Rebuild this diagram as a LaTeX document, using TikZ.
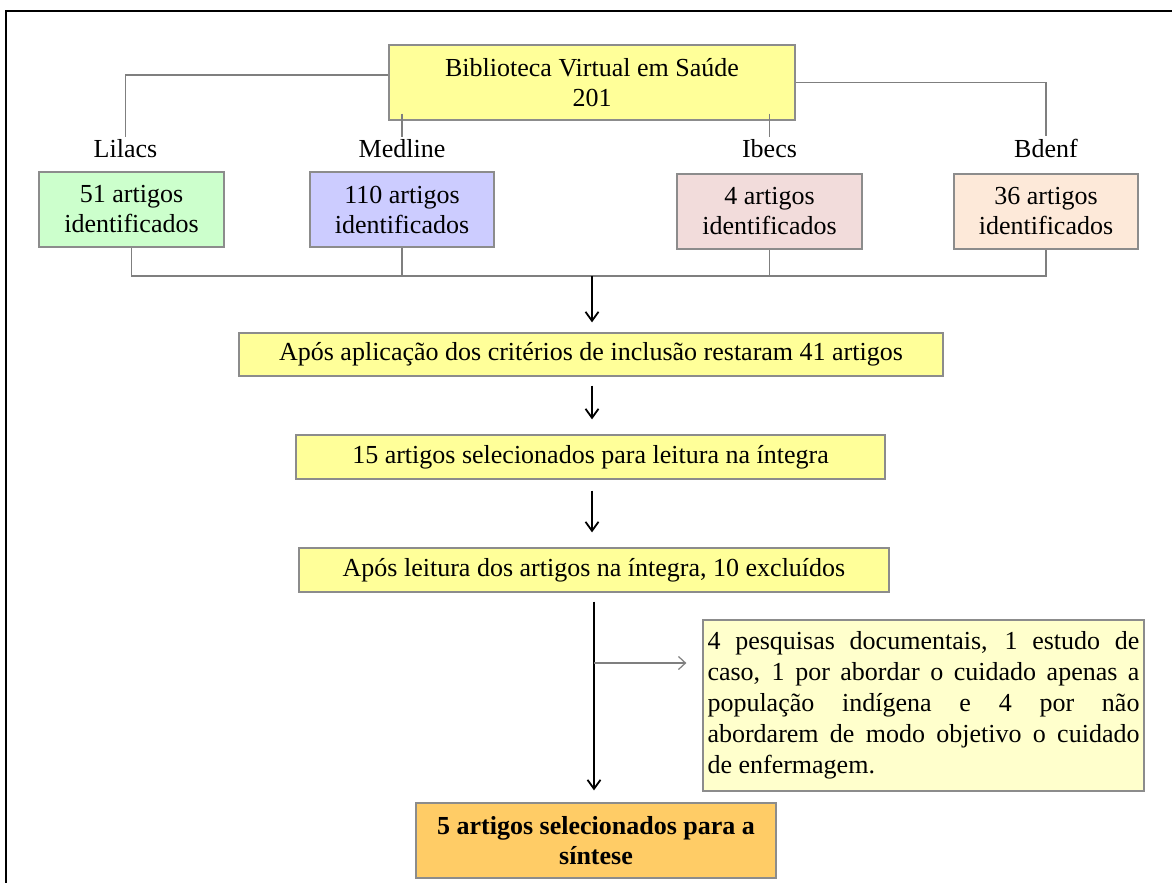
\documentclass[tikz,border=0pt]{standalone}
\usepackage{fontspec}
\setmainfont{Liberation Serif}
\usetikzlibrary{positioning,arrows.meta}
\definecolor{boxgray}{HTML}{8C8C8C}
\definecolor{linegray}{HTML}{7F7F7F}
\definecolor{bvsyellow}{HTML}{FFFF99}
\definecolor{lilgreen}{HTML}{CCFFCC}
\definecolor{medblue}{HTML}{CCCCFF}
\definecolor{ibepink}{HTML}{F2DCDB}
\definecolor{bdepeach}{HTML}{FDE9D9}
\definecolor{notecream}{HTML}{FFFFCC}
\definecolor{finorange}{HTML}{FFCC66}
\begin{document}
\begin{tikzpicture}[x=1pt, y=-1pt,
    every node/.style={font=\fontsize{26}{30}\selectfont, inner sep=3pt},
    box/.style={draw=boxgray, line width=1.3pt, rectangle, align=center},
    link/.style={draw=linegray, line width=1.4pt},
    flow/.style={draw=black, line width=1.8pt, -{Straight Barb[length=9pt, width=13pt, line width=1.8pt]}},
    aside/.style={draw=linegray, line width=1.2pt, -{Straight Barb[length=7pt, width=13pt]}}]
    \useasboundingbox (0,0) rectangle (1172,883);
    \draw[line width=2.4pt] (1172,11) -- (6,11) -- (6,883);

    % base de busca
    \node[box, fill=bvsyellow, minimum width=406pt, minimum height=75pt] (bvs) at (592,82.5) {Biblioteca Virtual em Saúde\\201};

    \node[box, fill=lilgreen, minimum width=185pt, minimum height=75pt] (lil) at (131.5,209.5) {51 artigos\\identificados};
    \node[box, fill=medblue, minimum width=184pt, minimum height=75pt] (med) at (402,209.5) {110 artigos\\identificados};
    \node[box, fill=ibepink, minimum width=185pt, minimum height=75pt] (ibe) at (769.5,211.5) {4 artigos\\identificados};
    \node[box, fill=bdepeach, minimum width=184pt, minimum height=75pt] (bde) at (1046,211.5) {36 artigos\\identificados};

    \node[above=10pt of lil, xshift=-6pt] (lil-lbl) {Lilacs};
    \node[above=10pt of med] (med-lbl) {Medline};
    \node[above=12pt of ibe] (ibe-lbl) {Ibecs};
    \node[above=12pt of bde] (bde-lbl) {Bdenf};

    \draw[link] ([yshift=7.5pt]bvs.west) -| (lil-lbl.north);
    \draw[link] (bvs.east) -| (bde-lbl.north);
    \draw[link] ([yshift=7pt]bvs.south -| med-lbl.north) -- (med-lbl.north);
    \draw[link] ([yshift=7pt]bvs.south -| ibe-lbl.north) -- (ibe-lbl.north);

    % juncao
    \coordinate (mrg) at (592,276);
    \draw[link] (lil.south) |- (mrg) -| (bde.south);
    \draw[link] (med.south) -- (med.south |- mrg);
    \draw[link] (ibe.south) -- (ibe.south |- mrg);

    % etapas
    \node[box, fill=bvsyellow, minimum width=704pt, minimum height=43pt] (crit) at (591,354.5) {Após aplicação dos critérios de inclusão restaram 41 artigos};
    \node[box, fill=bvsyellow, minimum width=589pt, minimum height=44pt] (leit) at (590.5,457) {15 artigos selecionados para leitura na íntegra};
    \node[box, fill=bvsyellow, minimum width=590pt, minimum height=44pt] (excl) at (594,570) {Após leitura dos artigos na íntegra, 10 excluídos};
    \node[box, fill=notecream, minimum width=441pt, minimum height=171pt, inner sep=4.5pt,
        text width=432pt, align=justify, font=\fontsize{26}{31}\selectfont] (motv) at (923.5,705.5)
        {4 pesquisas documentais, 1 estudo de\linebreak caso, 1 por abordar o cuidado apenas a\linebreak população indígena e 4 por não\linebreak abordarem de modo objetivo o cuidado\linebreak de enfermagem.};
    \node[box, fill=finorange, minimum width=360pt, minimum height=75pt, font=\fontsize{26}{30}\selectfont\bfseries] (fin) at (596,840.5) {5 artigos selecionados para a\\síntese};

    \draw[flow, shorten >=10pt] (mrg) -- (mrg |- crit.north);
    \draw[flow, shorten <=9pt, shorten >=15pt] (crit.south -| 592,0) -- (leit.north -| 592,0);
    \draw[flow, shorten <=11pt, shorten >=15pt] (leit.south -| 592,0) -- (excl.north -| 592,0);
    \draw[flow, shorten <=9pt, shorten >=12pt] (excl.south) -- (excl.south |- fin.north);

    \coordinate (brk) at (594,663);
    \draw[aside, shorten >=16pt] (brk) -- (brk -| motv.west);
\end{tikzpicture}
\end{document}
